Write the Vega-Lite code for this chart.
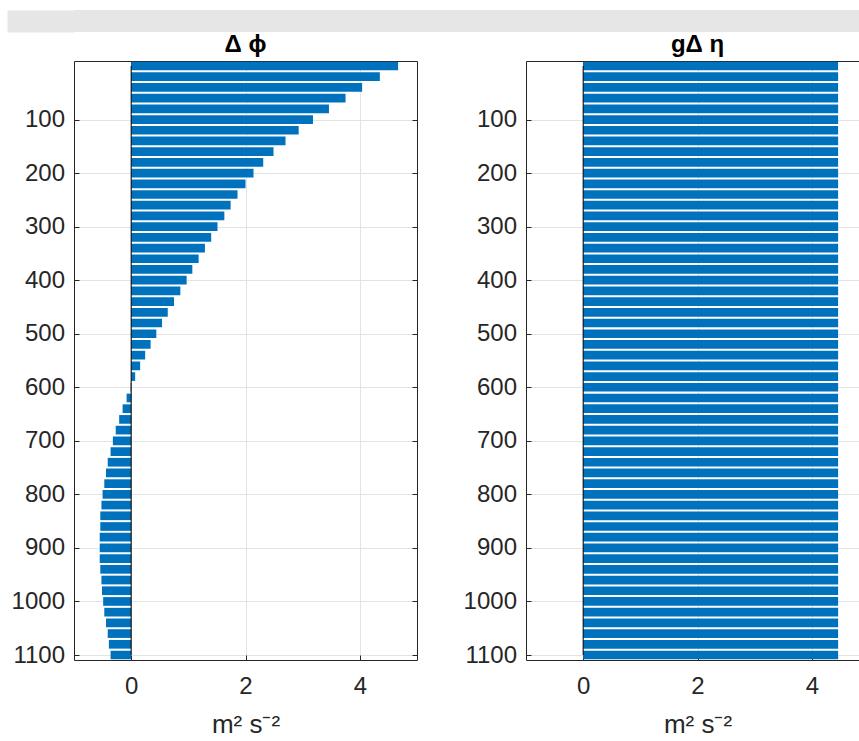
{
  "$schema": "https://vega.github.io/schema/vega-lite/v6.json",
  "background": "white",
  "padding": {"left": -4, "top": 10, "right": 0, "bottom": 0},
  "columns": 1,
  "align": "none",
  "spacing": 0,
  "config": {
    "view": {"stroke": null},
    "font": "Liberation Sans",
    "axis": {
      "labelFont": "Liberation Sans",
      "labelFontSize": 24,
      "labelColor": "#262626",
      "domainColor": "#262626",
      "domainWidth": 1,
      "tickColor": "#262626",
      "tickWidth": 1,
      "tickSize": -5,
      "gridColor": "#e3e3e3",
      "gridWidth": 1,
      "titleFont": "Liberation Sans",
      "titleFontSize": 26,
      "titleFontWeight": "normal",
      "titleColor": "#262626",
      "labelFlush": false,
      "labelOverlap": false,
      "format": "d"
    },
    "title": {
      "font": "Liberation Sans",
      "fontSize": 24,
      "fontWeight": "bold",
      "color": "#000000",
      "baseline": "alphabetic",
      "offset": 4,
      "anchor": "middle"
    }
  },
  "datasets": {
    "phi": [
      {"depth": 0, "value": 4.67}, {"depth": 20, "value": 4.35}, {"depth": 40, "value": 4.04},
      {"depth": 60, "value": 3.75}, {"depth": 80, "value": 3.46}, {"depth": 100, "value": 3.18},
      {"depth": 120, "value": 2.93}, {"depth": 140, "value": 2.70}, {"depth": 160, "value": 2.49},
      {"depth": 180, "value": 2.31}, {"depth": 200, "value": 2.14}, {"depth": 220, "value": 2.00},
      {"depth": 240, "value": 1.86}, {"depth": 260, "value": 1.74}, {"depth": 280, "value": 1.63},
      {"depth": 300, "value": 1.51}, {"depth": 320, "value": 1.40}, {"depth": 340, "value": 1.29},
      {"depth": 360, "value": 1.18}, {"depth": 380, "value": 1.07}, {"depth": 400, "value": 0.97},
      {"depth": 420, "value": 0.86}, {"depth": 440, "value": 0.75}, {"depth": 460, "value": 0.64},
      {"depth": 480, "value": 0.54}, {"depth": 500, "value": 0.44}, {"depth": 520, "value": 0.34},
      {"depth": 540, "value": 0.245}, {"depth": 560, "value": 0.157}, {"depth": 580, "value": 0.07},
      {"depth": 600, "value": -0.01}, {"depth": 620, "value": -0.08}, {"depth": 640, "value": -0.15},
      {"depth": 660, "value": -0.21}, {"depth": 680, "value": -0.27}, {"depth": 700, "value": -0.32},
      {"depth": 720, "value": -0.36}, {"depth": 740, "value": -0.41}, {"depth": 760, "value": -0.44},
      {"depth": 780, "value": -0.47}, {"depth": 800, "value": -0.50}, {"depth": 820, "value": -0.52},
      {"depth": 840, "value": -0.54}, {"depth": 860, "value": -0.54}, {"depth": 880, "value": -0.55},
      {"depth": 900, "value": -0.55}, {"depth": 920, "value": -0.55}, {"depth": 940, "value": -0.54},
      {"depth": 960, "value": -0.52}, {"depth": 980, "value": -0.51}, {"depth": 1000, "value": -0.49},
      {"depth": 1020, "value": -0.47}, {"depth": 1040, "value": -0.44}, {"depth": 1060, "value": -0.41},
      {"depth": 1080, "value": -0.39}, {"depth": 1100, "value": -0.36}
    ],
    "eta": [
      {"depth": 0, "value": 4.46}, {"depth": 20, "value": 4.46}, {"depth": 40, "value": 4.46},
      {"depth": 60, "value": 4.46}, {"depth": 80, "value": 4.46}, {"depth": 100, "value": 4.46},
      {"depth": 120, "value": 4.46}, {"depth": 140, "value": 4.46}, {"depth": 160, "value": 4.46},
      {"depth": 180, "value": 4.46}, {"depth": 200, "value": 4.46}, {"depth": 220, "value": 4.46},
      {"depth": 240, "value": 4.46}, {"depth": 260, "value": 4.46}, {"depth": 280, "value": 4.46},
      {"depth": 300, "value": 4.46}, {"depth": 320, "value": 4.46}, {"depth": 340, "value": 4.46},
      {"depth": 360, "value": 4.46}, {"depth": 380, "value": 4.46}, {"depth": 400, "value": 4.46},
      {"depth": 420, "value": 4.46}, {"depth": 440, "value": 4.46}, {"depth": 460, "value": 4.46},
      {"depth": 480, "value": 4.46}, {"depth": 500, "value": 4.46}, {"depth": 520, "value": 4.46},
      {"depth": 540, "value": 4.46}, {"depth": 560, "value": 4.46}, {"depth": 580, "value": 4.46},
      {"depth": 600, "value": 4.46}, {"depth": 620, "value": 4.46}, {"depth": 640, "value": 4.46},
      {"depth": 660, "value": 4.46}, {"depth": 680, "value": 4.46}, {"depth": 700, "value": 4.46},
      {"depth": 720, "value": 4.46}, {"depth": 740, "value": 4.46}, {"depth": 760, "value": 4.46},
      {"depth": 780, "value": 4.46}, {"depth": 800, "value": 4.46}, {"depth": 820, "value": 4.46},
      {"depth": 840, "value": 4.46}, {"depth": 860, "value": 4.46}, {"depth": 880, "value": 4.46},
      {"depth": 900, "value": 4.46}, {"depth": 920, "value": 4.46}, {"depth": 940, "value": 4.46},
      {"depth": 960, "value": 4.46}, {"depth": 980, "value": 4.46}, {"depth": 1000, "value": 4.46},
      {"depth": 1020, "value": 4.46}, {"depth": 1040, "value": 4.46}, {"depth": 1060, "value": 4.46},
      {"depth": 1080, "value": 4.46}, {"depth": 1100, "value": 4.46}
    ]
  },
  "concat": [
    {
      "width": 850,
      "height": 22,
      "view": {"fill": "#e6e6e6", "stroke": null},
      "data": {"values": [{"frame": 0.5}]},
      "mark": {"type": "text", "text": ""},
      "encoding": {
        "y": {"field": "frame", "type": "quantitative",
              "scale": {"domain": [0, 1], "nice": false, "zero": false},
              "axis": {"orient": "left", "values": [0.5], "tickSize": 67, "tickWidth": 22, "tickColor": "#e6e6e6",
                       "tickCap": "butt", "labels": false, "domain": false, "grid": false, "title": null}}
      }
    },
    {
      "spacing": 45,
      "hconcat": [
        {
          "width": 343,
          "height": 599,
          "title": {"text": "Δ ϕ"},
          "layer": [
            {
              "data": {"name": "phi"},
              "mark": {"type": "bar", "orient": "horizontal", "color": "#0072BD", "size": 8.7, "clip": true},
              "encoding": {
                "x": {"field": "value", "type": "quantitative",
                      "scale": {"domain": [-1, 5], "nice": false},
                      "axis": {"orient": "bottom", "values": [0, 2, 4], "grid": true, "labelPadding": 19, "title": "m² s⁻²", "titlePadding": 13}},
                "y": {"field": "depth", "type": "quantitative",
                      "scale": {"domain": [0, 1100], "reverse": true, "nice": false, "zero": false},
                      "axis": {"orient": "left", "values": [100, 200, 300, 400, 500, 600, 700, 800, 900, 1000, 1100], "grid": true, "labelPadding": 14.5, "title": null}}
              }
            },
            {
              "data": {"values": [{"base": 0}]},
              "mark": {"type": "rule", "color": "#000000", "strokeWidth": 1},
              "encoding": {
                "x": {"datum": 0, "type": "quantitative",
                      "axis": {"orient": "top", "values": [0, 2, 4], "labels": false, "grid": false, "title": null}},
                "y": {"datum": 0, "type": "quantitative",
                      "axis": {"orient": "right", "values": [100, 200, 300, 400, 500, 600, 700, 800, 900, 1000, 1100], "labels": false, "grid": false, "title": null}},
                "y2": {"datum": 1100}
              }
            }
          ]
        },
        {
          "width": 343,
          "height": 599,
          "title": {"text": "gΔ η"},
          "layer": [
            {
              "data": {"name": "eta"},
              "mark": {"type": "bar", "orient": "horizontal", "color": "#0072BD", "size": 8.7, "clip": true},
              "encoding": {
                "x": {"field": "value", "type": "quantitative",
                      "scale": {"domain": [-1, 5], "nice": false},
                      "axis": {"orient": "bottom", "values": [0, 2, 4], "grid": true, "labelPadding": 19, "title": "m² s⁻²", "titlePadding": 13}},
                "y": {"field": "depth", "type": "quantitative",
                      "scale": {"domain": [0, 1100], "reverse": true, "nice": false, "zero": false},
                      "axis": {"orient": "left", "values": [100, 200, 300, 400, 500, 600, 700, 800, 900, 1000, 1100], "grid": true, "labelPadding": 14.5, "title": null}}
              }
            },
            {
              "data": {"values": [{"base": 0}]},
              "mark": {"type": "rule", "color": "#000000", "strokeWidth": 1},
              "encoding": {
                "x": {"datum": 0, "type": "quantitative",
                      "axis": {"orient": "top", "values": [0, 2, 4], "labels": false, "grid": false, "title": null}},
                "y": {"datum": 0, "type": "quantitative",
                      "axis": {"orient": "right", "values": [100, 200, 300, 400, 500, 600, 700, 800, 900, 1000, 1100], "labels": false, "grid": false, "title": null}},
                "y2": {"datum": 1100}
              }
            }
          ]
        }
      ]
    }
  ]
}
